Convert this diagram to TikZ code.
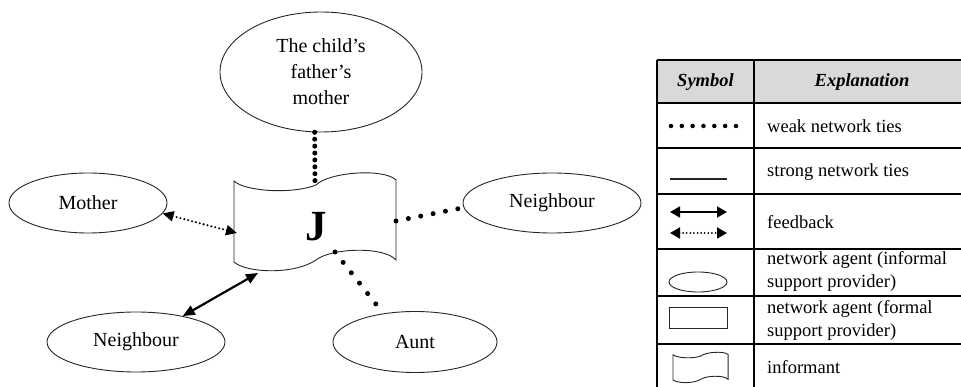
\documentclass[tikz,border=0pt]{standalone}
\usepackage{fontspec}
\setmainfont{Liberation Serif}
\usetikzlibrary{shapes.geometric,arrows.meta}
\tikzset{
  agent/.style={draw=black!85, line width=0.9pt, ellipse, inner sep=0pt, align=center,
    font=\fontsize{20}{26}\selectfont},
  weaktie/.style={line width=5pt, line cap=round, dash pattern=on 0pt off #1},
  weaktie/.default=12.6pt,
  fbsolid/.style={line width=2.2pt, {Triangle[length=12pt,width=10pt]}-{Triangle[length=12pt,width=10pt]}},
  fbdotted/.style={line width=2.3pt, line cap=round, dash pattern=on 0pt off 4pt,
    {Triangle[length=11pt,width=10pt]}-{Triangle[length=11pt,width=10pt]}},
  legarrow/.style={{Triangle[length=10pt,width=11pt]}-{Triangle[length=10pt,width=11pt]}},
  tabline/.style={line width=1.4pt, black},
  legtext/.style={anchor=west, inner sep=0pt, align=left, font=\fontsize{18.5}{22.5}\selectfont},
  headtext/.style={inner sep=0pt, font=\fontsize{18.5}{22.5}\selectfont\bfseries\itshape},
  pics/informant/.style={code={
    \draw[draw=black!85, line width=0.9pt, fill=white]
      (0,9) .. controls (12,20) and (60,22) .. (82,13)
            .. controls (95,0) and (150,-4) .. (162,8)
      -- (162,88) .. controls (150,74) and (97,76) .. (82,88)
            .. controls (60,103) and (12,101) .. (0,90) -- cycle;
  }}
}
\begin{document}
\begin{tikzpicture}[x=1pt,y=-1pt]
\useasboundingbox (0,0) rectangle (961,387);
\clip (0,0) rectangle (961,387);

% ---- agents ----
\node[agent, minimum width=202pt, minimum height=120pt] (tm) at (321,72) {The child’s\\father’s\\mother};
\node[agent, minimum width=158pt, minimum height=60pt] (mo) at (88,203) {Mother};
\node[agent, minimum width=178pt, minimum height=60pt] (nl) at (136,342) {Neighbour};
\node[agent, minimum width=164pt, minimum height=61pt] (au) at (415,342) {Aunt};
\node[agent, minimum width=178pt, minimum height=60pt] (nr) at (552,203) {Neighbour};

% ---- informant J ----
\pic at (234,172) {informant};
\node[inner sep=0pt, font=\fontsize{43}{43}\selectfont\bfseries] (J) at (316,227) {J};
\coordinate (Jtop) at (315,186);
\coordinate (Jright) at (396,221);
\coordinate (Jbot) at (335,252);
\coordinate (Jleft) at (237,233);
\coordinate (Jbl) at (258,273);

% ---- connectors ----
\draw[weaktie=6.9pt] (tm.264) -- (Jtop);
\draw[weaktie] (Jright) -- (nr.183);
\draw[weaktie=13.2pt] (Jbot) -- (au.138);
\draw[fbdotted] (mo.-8) -- (Jleft);
\draw[fbsolid] (nl.29) -- (Jbl);

% ---- legend table ----
\fill[black!15] (657,60) rectangle (980,103);
\foreach \yy in {60,103,148,194,249,296,344} \draw[tabline] (657,\yy) -- (980,\yy);
\draw[tabline] (657,60) -- (657,400);
\draw[tabline] (754,60) -- (754,400);

\node[headtext] (hsym) at (705.5,82) {Symbol};
\node[headtext] (hexp) at (862,82) {Explanation};

\coordinate (wa) at (671,126); \coordinate (wb) at (736,126);
\draw[line width=4.5pt, line cap=round, dash pattern=on 0pt off 10.83pt] (wa) -- (wb);
\node[legtext] (t1) at (767,126) {weak network ties};

\coordinate (sa) at (670,179); \coordinate (sb) at (727,179);
\draw[line width=2.6pt, black!85] (sa) -- (sb);
\node[legtext] (t2) at (767,172) {strong network ties};

\coordinate (fa) at (670,212); \coordinate (fb) at (727,212);
\draw[legarrow, line width=1.5pt] (fa) -- (fb);
\coordinate (da) at (670,233); \coordinate (db) at (727,233);
\draw[legarrow, line width=2pt, line cap=round, dash pattern=on 0pt off 3.6pt] (da) -- (db);
\node[legtext] (t3) at (767,222) {feedback};

\node[draw=black!85, line width=0.9pt, ellipse, minimum width=58pt, minimum height=20pt, inner sep=0pt] (le) at (698,282) {};
\node[legtext] (t4) at (767,271.5) {network agent (informal\\support provider)};

\node[draw=black!85, line width=0.9pt, rectangle, minimum width=58pt, minimum height=21pt, inner sep=0pt] (lr) at (698,317.5) {};
\node[legtext] (t5) at (767,320.5) {network agent (formal\\support provider)};

\pic[xscale=0.34, yscale=0.31] at (673,352) {informant};
\node[legtext] (t6) at (767,367) {informant};
\end{tikzpicture}
\end{document}
